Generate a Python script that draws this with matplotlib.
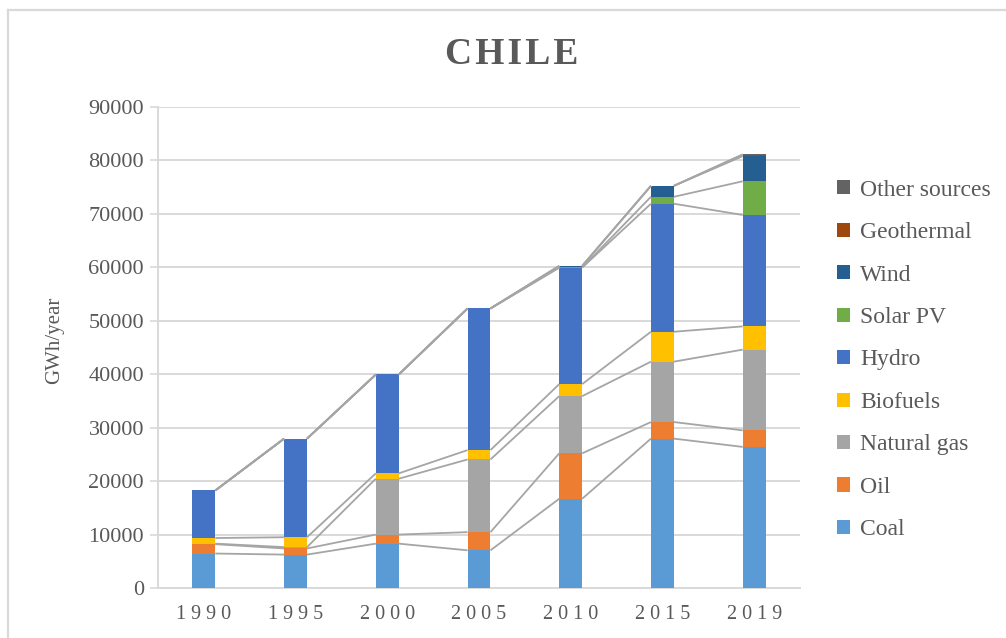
import matplotlib
matplotlib.use("Agg")
import matplotlib.pyplot as plt
import numpy as np
from matplotlib.lines import Line2D
from matplotlib.patches import Patch

years = ["1990", "1995", "2000", "2005", "2010", "2015", "2019"]
series_names = ["Coal", "Oil", "Natural gas", "Biofuels", "Hydro",
                "Solar PV", "Wind", "Geothermal", "Other sources"]
coal = [6450, 6250, 8300, 7050, 16700, 27950, 26400]
oil = [1750, 1150, 1700, 3400, 8500, 3100, 3100]
natural_gas = [100, 250, 10450, 13600, 10700, 11300, 15100]
biofuels = [1050, 1850, 1000, 1750, 2250, 5600, 4350]
hydro = [8900, 18450, 18500, 26500, 21800, 23950, 20850]
solar_pv = [0, 0, 0, 0, 20, 1300, 6300]
wind = [0, 0, 0, 0, 300, 2050, 4700]
geothermal = [0, 0, 0, 0, 0, 0, 300]
other_sources = [0, 0, 0, 0, 0, 0, 20]

colors = ["#5B9BD5", "#ED7D31", "#A5A5A5", "#FFC000", "#4472C4",
          "#70AD47", "#255E91", "#9E480E", "#636363"]

data = np.array([coal, oil, natural_gas, biofuels, hydro, solar_pv,
                 wind, geothermal, other_sources], dtype=float)

W, H = 1006, 638
fig = plt.figure(figsize=(W / 100, H / 100), dpi=100)
fig.patch.set_facecolor("white")

# outer chart border
border = "#D9D9D9"
fig.add_artist(Line2D([8 / W, 8 / W], [0, 1 - 10 / H], transform=fig.transFigure,
                      color=border, lw=1.6))
fig.add_artist(Line2D([8 / W, 1], [1 - 10 / H, 1 - 10 / H], transform=fig.transFigure,
                      color=border, lw=1.6))

ax = fig.add_axes([158 / W, 1 - 588 / H, (800 - 158) / W, (588 - 107) / H])
x = np.arange(len(years))
bw = 0.25
bottoms = np.zeros(len(years))
tops = []
for vals, name, c in zip(data, series_names, colors):
    ax.bar(x, vals, bw, bottom=bottoms, color=c, label=name, zorder=3,
           edgecolor="none")
    bottoms = bottoms + vals
    tops.append(bottoms.copy())

# series lines
for top in tops:
    for i in range(len(years) - 1):
        ax.plot([x[i] + bw / 2, x[i + 1] - bw / 2], [top[i], top[i + 1]],
                color="#A5A5A5", lw=1.3, zorder=4, solid_capstyle="butt")

ax.set_xlim(-0.5, len(years) - 0.5)
ax.set_ylim(0, 90000)
ax.set_yticks(np.arange(0, 90001, 10000))
ax.set_yticklabels([str(v) for v in range(0, 90001, 10000)],
                   fontsize=16, family="Liberation Serif", color="#595959")
ax.set_xticks(x)
ax.set_xticklabels([" ".join(y) for y in years], fontsize=14.5,
                   family="Liberation Serif", color="#595959")
ax.tick_params(axis="x", length=0, pad=12)
ax.tick_params(axis="y", length=6, color=border, width=1.2, pad=4)
ax.grid(axis="y", color=border, lw=1.4, zorder=0)
for s in ["top", "right"]:
    ax.spines[s].set_visible(False)
for s in ["left", "bottom"]:
    ax.spines[s].set_color(border)
    ax.spines[s].set_linewidth(1.4)

fig.text(55 / W, 1 - 340 / H, "GWh/year", rotation=90, ha="center", va="center",
         fontsize=15, family="Liberation Serif", color="#595959")
fig.text(512 / W, 1 - 54 / H, "C\u200aH\u200aI\u200aL\u200aE", ha="center", va="center",
         fontsize=27, fontweight="bold", family=["Liberation Serif", "DejaVu Serif"],
         color="#595959")

handles = [Patch(facecolor=c, edgecolor="none") for c in colors][::-1]
labels = series_names[::-1]
leg = fig.legend(handles, labels, loc="center left",
                 bbox_to_anchor=(828 / W, 1 - 360 / H), frameon=False,
                 prop={"family": "Liberation Serif", "size": 17},
                 handlelength=0.55, handleheight=0.55, handletextpad=0.4,
                 labelspacing=0.91, borderaxespad=0)
for t in leg.get_texts():
    t.set_color("#595959")

fig.savefig("out.png", dpi=100)
